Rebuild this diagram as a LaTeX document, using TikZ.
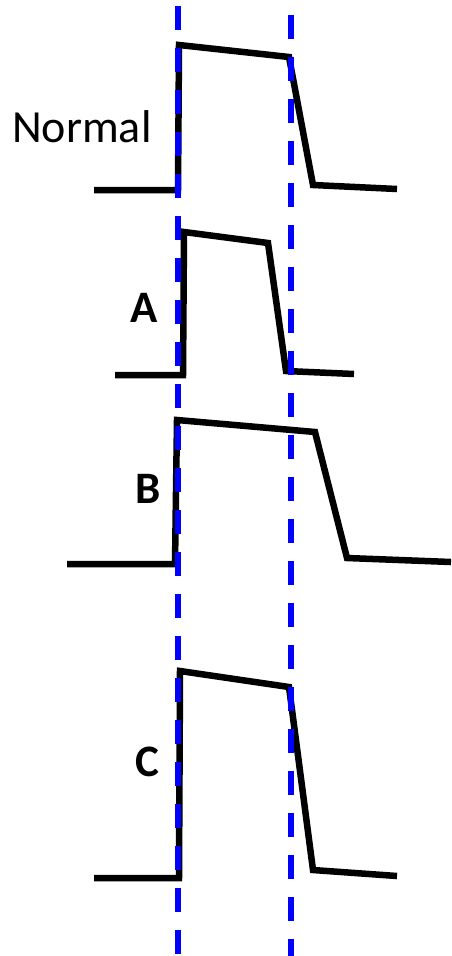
\documentclass[tikz,border=0pt]{standalone}
\usepackage{fontspec}
\setmainfont{Carlito}
\tikzset{
  trace/.style = {line width=6.5pt, black, line join=miter},
  marker/.style = {line width=5.5pt, blue, dash pattern=on 24pt off 18pt},
  lbl/.style = {anchor=base, inner sep=0, font=\fontsize{46}{54}\selectfont},
  blbl/.style = {lbl, font=\fontsize{45}{54}\selectfont\bfseries}
}
\begin{document}
\begin{tikzpicture}[x=1pt, y=-1pt]
  \useasboundingbox (0,0) rectangle (451,956);
  % traces
  \draw[trace] (94,190) -- (178,190) -- (179,45) -- (289,57) -- (313,185) -- (397,189);
  \draw[trace] (115,375) -- (183,375) -- (184,232) -- (268,243) -- (286,371) -- (354,374);
  \draw[trace] (67,564) -- (175,564) -- (177,420) -- (315,432) -- (347,558) -- (451,562);
  \draw[trace] (94,878) -- (179,878) -- (180,671) -- (289,687) -- (313,870) -- (397,876);
  % labels
  \node[lbl, anchor=base west] (normal) at (12,142) {Normal};
  \node[blbl] (a) at (144,322) {A};
  \node[blbl] (b) at (148,503) {B};
  \node[blbl] (c) at (147,776) {C};
  % dashed markers
  \draw[marker] (178,6) -- (178,956);
  \draw[marker] (291,15) -- (291,956);
\end{tikzpicture}
\end{document}
